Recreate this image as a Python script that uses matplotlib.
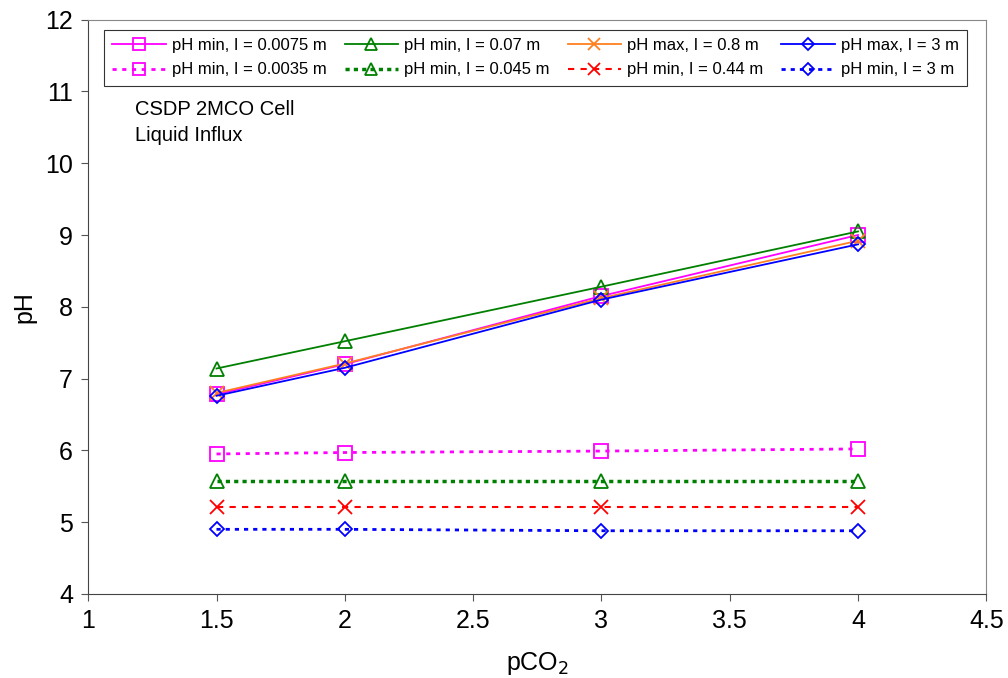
import matplotlib
matplotlib.use("Agg")
import matplotlib.pyplot as plt

plt.rcParams['font.family'] = ['Liberation Sans', 'DejaVu Sans']

pco2 = [1.5, 2, 3, 4]

# solid series
ph_min_0075 = [6.78, 7.20, 8.15, 9.00]
ph_min_007 = [7.14, 7.52, 8.28, 9.05]
ph_max_08 = [6.80, 7.21, 8.12, 8.92]
ph_max_3 = [6.76, 7.15, 8.10, 8.87]

# dotted series
ph_min_0035 = [5.95, 5.97, 5.99, 6.02]
ph_min_0045 = [5.58, 5.58, 5.58, 5.58]
ph_min_044 = [5.21, 5.21, 5.21, 5.21]
ph_min_3 = [4.90, 4.90, 4.88, 4.88]

labels = ["pH min, I = 0.0075 m", "pH min, I = 0.07 m", "pH max, I = 0.8 m", "pH max, I = 3 m",
          "pH min, I = 0.0035 m", "pH min, I = 0.045 m", "pH min, I = 0.44 m", "pH min, I = 3 m"]

fig = plt.figure(figsize=(10.08, 6.78), dpi=100)
ax = fig.add_axes([0.0875, 0.124, 0.891, 0.847])

mk = dict(markersize=10, markerfacecolor='none', markeredgewidth=1.3)
dk = dict(markersize=7.5, markerfacecolor='none', markeredgewidth=1.3)

h = {}
h[0], = ax.plot(pco2, ph_min_0075, '-', color='#ff00ff', marker='s', lw=1.3, label=labels[0], **mk)
h[1], = ax.plot(pco2, ph_min_007, '-', color='#008000', marker='^', lw=1.3, label=labels[1], **mk)
h[2], = ax.plot(pco2, ph_max_08, '-', color='#ff8020', marker='x', lw=1.3, label=labels[2], **mk)
h[3], = ax.plot(pco2, ph_max_3, '-', color='#0000ff', marker='D', lw=1.3, label=labels[3], **dk)
h[4], = ax.plot(pco2, ph_min_0035, '--', color='#ff00ff', marker='s', lw=2, dashes=(1.5, 2),
                label=labels[4], **mk)
h[5], = ax.plot(pco2, ph_min_0045, '--', color='#008000', marker='^', lw=2.5, dashes=(1.2, 1.2),
                label=labels[5], **mk)
h[6], = ax.plot(pco2, ph_min_044, '--', color='#ff0000', marker='x', lw=1.5, dashes=(3, 3),
                label=labels[6], **mk)
h[7], = ax.plot(pco2, ph_min_3, '--', color='#0000ff', marker='D', lw=2, dashes=(1.5, 1.8),
                label=labels[7], **dk)

ax.set_xlim(1, 4.5)
ax.set_ylim(4, 12)
ax.set_xticks([1, 1.5, 2, 2.5, 3, 3.5, 4, 4.5])
ax.set_xticklabels(['1', '1.5', '2', '2.5', '3', '3.5', '4', '4.5'])
ax.set_yticks(range(4, 13))
ax.tick_params(labelsize=18, direction='out', length=5, color='#555555', pad=6)
ax.set_xlabel('pCO$_2$', fontsize=18, labelpad=12)
ax.set_ylabel('pH', fontsize=18, labelpad=6)

for s in ['left', 'bottom']:
    ax.spines[s].set_color('#444444')
for s in ['top', 'right']:
    ax.spines[s].set_color('#888888')

ax.text(0.052, 0.86, 'CSDP 2MCO Cell\nLiquid Influx', transform=ax.transAxes,
        fontsize=14.5, va='top', linespacing=1.45)

order = [0, 4, 1, 5, 2, 6, 3, 7]
leg = ax.legend([h[i] for i in order], [labels[i] for i in order], ncol=4,
                loc='upper center', bbox_to_anchor=(0.498, 0.988), fontsize=12,
                frameon=True, fancybox=False, edgecolor='black', handlelength=3.2,
                handletextpad=0.35, columnspacing=1.1, borderpad=0.5, borderaxespad=0.2,
                labelspacing=0.55, markerscale=0.8)
leg.get_frame().set_linewidth(0.8)

fig.savefig('out.png', dpi=100)
